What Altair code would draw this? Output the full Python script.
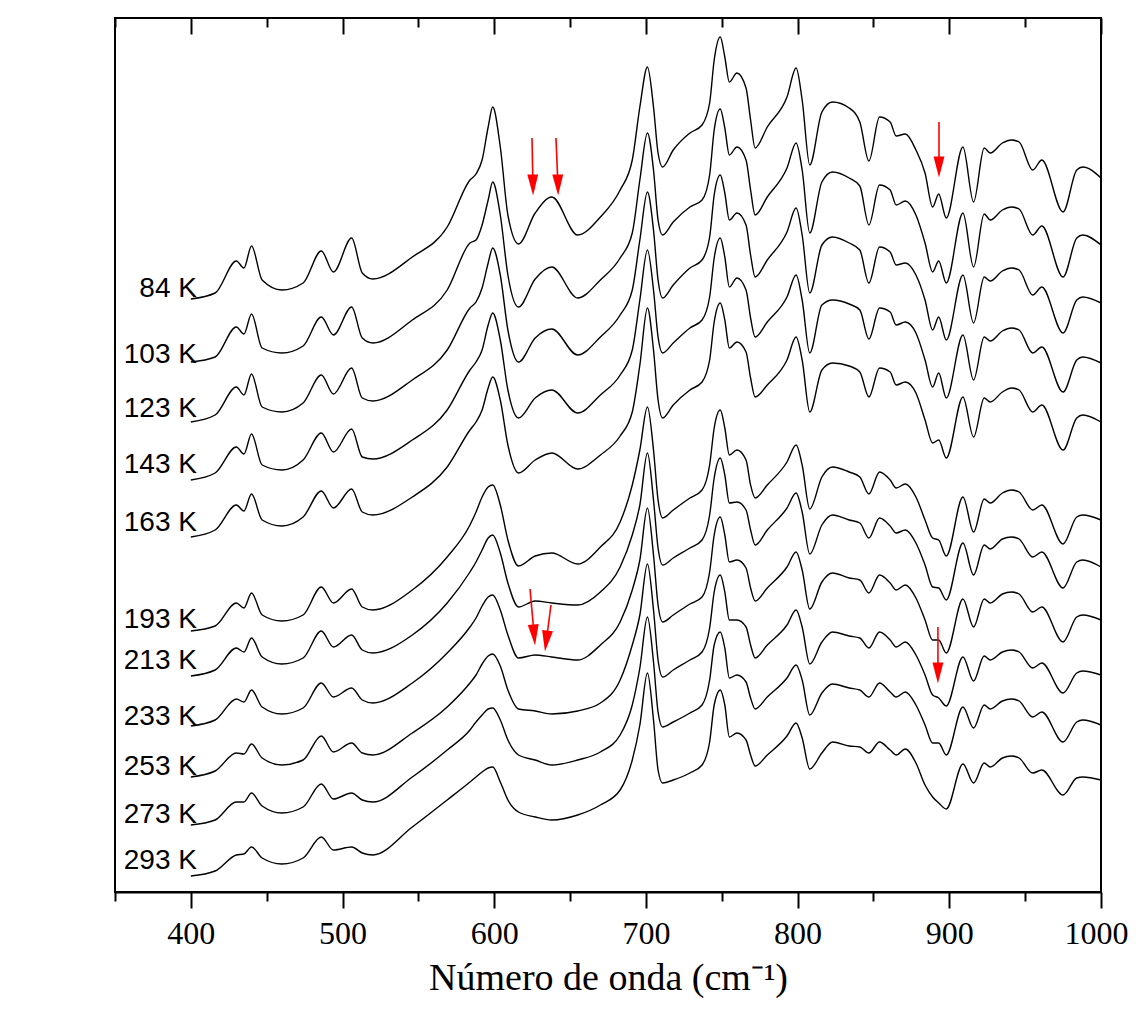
import altair as alt
import pandas as pd

# wavenumber grid (cm-1)
wn = [400, 416, 430, 435, 440, 447, 460, 474, 486, 494, 506, 513, 520, 546, 569, 584, 588, 592, 596, 599,
      604, 609, 616, 627, 638, 655, 670, 683, 691, 696, 701, 705, 708, 711, 718, 729, 737, 742, 745, 749,
      752, 755, 760, 766, 769, 772, 780, 793, 799, 803, 808, 816, 823, 834, 841, 847, 854, 861, 865, 871,
      878, 884, 889, 893, 898, 909, 916, 923, 927, 935, 941, 946, 955, 961, 975, 984, 988, 1000]

# stacked absorbance traces (offset units, larger = lower on the page)
k84 = [299, 293, 261, 268, 246, 280, 290, 283, 251, 272, 238, 273, 279, 257, 227, 180, 174, 160, 127, 107,
       147, 215, 244, 213, 197, 235, 217, 190, 160, 107, 67, 107, 153, 167, 150, 133, 125, 103, 60, 37,
       57, 82, 73, 88, 120, 148, 127, 97, 68, 100, 165, 112, 102, 108, 122, 161, 117, 122, 136, 134,
       150, 173, 207, 194, 218, 147, 202, 148, 153, 143, 140, 142, 170, 160, 212, 170, 167, 178]
k103 = [362, 357, 327, 334, 314, 348, 353, 346, 317, 335, 307, 338, 343, 320, 290, 243, 240, 225, 200, 182,
        215, 275, 307, 279, 267, 298, 280, 258, 233, 180, 133, 170, 220, 235, 222, 207, 200, 175, 130, 109,
        128, 155, 147, 160, 190, 215, 197, 168, 143, 170, 233, 182, 172, 178, 186, 225, 185, 190, 205, 201,
        215, 243, 272, 261, 283, 213, 267, 214, 220, 210, 207, 209, 235, 226, 277, 238, 235, 245]
k123 = [422, 415, 387, 395, 374, 407, 412, 403, 375, 394, 368, 398, 401, 380, 350, 308, 302, 288, 263, 248,
        275, 330, 362, 338, 329, 355, 337, 315, 290, 240, 192, 230, 280, 298, 285, 268, 260, 237, 195, 175,
        193, 220, 213, 225, 255, 277, 260, 232, 208, 235, 293, 245, 237, 243, 250, 283, 247, 252, 265, 263,
        275, 300, 330, 317, 340, 275, 323, 277, 281, 271, 268, 270, 295, 287, 333, 300, 297, 303]
k143 = [480, 473, 447, 454, 434, 465, 470, 460, 433, 452, 429, 457, 459, 440, 410, 370, 362, 350, 325, 313,
        340, 390, 418, 398, 390, 413, 395, 375, 350, 300, 250, 290, 337, 353, 343, 328, 320, 297, 258, 238,
        257, 287, 278, 290, 318, 337, 322, 297, 275, 300, 353, 305, 300, 304, 310, 339, 308, 312, 325, 322,
        333, 360, 387, 373, 398, 335, 380, 337, 341, 331, 328, 330, 353, 347, 392, 360, 357, 363]
k163 = [537, 530, 505, 511, 494, 520, 526, 517, 491, 508, 489, 512, 515, 497, 467, 430, 422, 410, 388, 377,
        400, 445, 473, 460, 453, 469, 455, 436, 412, 365, 308, 350, 400, 418, 405, 390, 382, 360, 322, 303,
        320, 348, 342, 352, 378, 397, 385, 360, 337, 360, 412, 370, 363, 366, 372, 397, 368, 372, 385, 382,
        393, 420, 443, 440, 458, 397, 437, 398, 402, 392, 388, 390, 412, 405, 450, 418, 415, 422]
k193 = [631, 626, 603, 608, 593, 615, 621, 615, 587, 603, 589, 607, 610, 590, 557, 525, 512, 497, 487, 485,
        505, 540, 566, 556, 553, 564, 547, 522, 485, 450, 407, 450, 500, 518, 510, 498, 490, 465, 428, 410,
        428, 455, 450, 460, 485, 498, 485, 462, 445, 465, 509, 477, 467, 472, 477, 494, 472, 480, 488, 484,
        497, 520, 538, 540, 556, 497, 532, 499, 503, 493, 490, 492, 510, 505, 544, 517, 515, 520]
k213 = [676, 670, 648, 652, 638, 657, 664, 658, 631, 647, 635, 650, 653, 635, 603, 572, 562, 550, 538, 535,
        553, 583, 607, 601, 603, 605, 592, 567, 535, 505, 453, 500, 548, 565, 558, 548, 540, 515, 478, 458,
        475, 503, 502, 510, 530, 545, 530, 508, 493, 512, 554, 525, 515, 520, 523, 538, 518, 526, 533, 530,
        543, 565, 587, 588, 600, 543, 575, 545, 549, 539, 537, 539, 557, 552, 588, 562, 560, 567]
k233 = [726, 720, 699, 702, 690, 707, 714, 708, 683, 697, 688, 700, 703, 683, 653, 627, 618, 606, 597, 595,
        610, 635, 658, 655, 657, 660, 645, 622, 590, 560, 508, 555, 605, 622, 615, 604, 597, 572, 535, 517,
        535, 562, 560, 568, 588, 601, 588, 567, 552, 570, 609, 582, 573, 578, 580, 593, 575, 583, 590, 585,
        598, 620, 640, 640, 653, 599, 627, 599, 603, 594, 592, 594, 612, 607, 642, 617, 615, 620]
k253 = [777, 771, 753, 754, 744, 758, 765, 760, 736, 752, 743, 753, 755, 733, 707, 683, 675, 664, 656, 654,
        666, 690, 709, 711, 714, 711, 703, 680, 645, 615, 564, 610, 660, 677, 670, 660, 652, 628, 592, 575,
        592, 620, 620, 627, 645, 658, 645, 625, 610, 627, 664, 642, 632, 636, 638, 648, 632, 640, 647, 642,
        655, 675, 695, 698, 706, 657, 681, 656, 660, 652, 650, 652, 668, 663, 693, 673, 671, 675]
k273 = [825, 820, 802, 802, 793, 806, 813, 807, 784, 799, 793, 800, 802, 777, 750, 730, 722, 715, 709, 708,
        720, 740, 755, 760, 765, 760, 752, 735, 705, 668, 617, 662, 712, 727, 722, 713, 705, 680, 645, 632,
        648, 678, 675, 682, 698, 709, 697, 678, 665, 680, 715, 693, 684, 688, 690, 697, 683, 692, 697, 692,
        705, 725, 743, 743, 755, 707, 728, 705, 709, 701, 699, 701, 717, 712, 742, 722, 720, 725]
k293 = [876, 871, 855, 854, 847, 858, 864, 858, 837, 850, 847, 853, 855, 827, 800, 782, 777, 772, 768, 767,
        782, 800, 812, 817, 820, 815, 805, 790, 760, 725, 673, 720, 770, 783, 780, 773, 765, 742, 705, 690,
        705, 737, 733, 740, 755, 766, 755, 736, 723, 738, 769, 753, 742, 746, 747, 753, 742, 750, 755, 749,
        763, 785, 797, 803, 809, 764, 783, 763, 767, 758, 756, 758, 773, 770, 795, 778, 777, 780]

temps = ["84 K", "103 K", "123 K", "143 K", "163 K", "193 K", "213 K", "233 K", "253 K", "273 K", "293 K"]
traces = [k84, k103, k123, k143, k163, k193, k213, k233, k253, k273, k293]
label_x = [404] * 11
label_y = [289, 355, 409, 465, 523, 620, 661, 717, 767, 815, 861]

# red arrows: shaft start (x0, y0), head centre (x1, y1), head rotation
arrow_x0 = [624.9, 640.7, 893.2, 623.6, 637.4, 892.5]
arrow_y0 = [138, 138, 122, 589, 605, 627]
arrow_x1 = [625.5, 642.0, 893.2, 626.3, 634.3, 892.5]
arrow_y1 = [185, 185, 167, 635, 641, 673]
arrow_ang = [359, 359, 0, 355, 7, 0]

major = [400, 500, 600, 700, 800, 900, 1000]
minor = [350, 450, 550, 650, 750, 850, 950]

rows = []
for name, vals in zip(temps, traces):
    for w, v in zip(wn, vals):
        rows.append({"curve": name, "wn": w, "a": v})
df = pd.DataFrame(rows)
labels_df = pd.DataFrame({"label": temps, "lx": label_x, "ly": label_y})
arrows_df = pd.DataFrame({"x0": arrow_x0, "y0": arrow_y0, "x1": arrow_x1, "y1": arrow_y1, "ang": arrow_ang})

xs = alt.Scale(domain=[350, 1000], nice=False, zero=False)
ys = alt.Scale(domain=[18, 892], reverse=True, nice=False, zero=False)

SERIF = "Liberation Serif"

lines = alt.Chart(df).mark_line(color="black", strokeWidth=1.4, interpolate="monotone").encode(
    x=alt.X("wn:Q", scale=xs, axis=alt.Axis(
        orient="bottom", values=major, format="d", tickSize=16, tickWidth=2, tickColor="black",
        domainWidth=2, domainColor="black", grid=False,
        labelFont=SERIF, labelFontSize=32, labelColor="black", labelPadding=10,
        labelFlush=True, labelFlushOffset=27,
        title="Número de onda (cm⁻¹)", titleFont=SERIF, titleFontSize=38, titleFontWeight="normal",
        titleColor="black", titleY=97, titleBaseline="alphabetic")),
    y=alt.Y("a:Q", scale=ys, axis=alt.Axis(
        title="Absorbância", labels=False, ticks=False, grid=False, domainWidth=2, domainColor="black",
        titleFont=SERIF, titleFontSize=38, titleFontWeight="normal", titleColor="black",
        titleAngle=270, titleX=-73, titleY=443, titleBaseline="alphabetic", titleAlign="center")),
    detail="curve:N",
)

labels = alt.Chart(labels_df).mark_text(
    align="right", baseline="middle", font="Liberation Sans", fontSize=28, color="black"
).encode(
    x=alt.X("lx:Q", scale=xs, axis=alt.Axis(
        orient="bottom", values=minor, tickSize=9, tickWidth=2, tickColor="black",
        labels=False, domain=False, grid=False, title=None)),
    y=alt.Y("ly:Q", scale=ys, axis=None),
    text="label:N",
)

shafts = alt.Chart(arrows_df).mark_rule(color="#ff0000", strokeWidth=1.6).encode(
    x=alt.X("x0:Q", scale=xs, axis=alt.Axis(
        orient="top", offset=-16, values=major, tickSize=16, tickWidth=2, tickColor="black",
        labels=False, domain=False, grid=False, title=None)),
    y=alt.Y("y0:Q", scale=ys, axis=None),
    x2="x1:Q",
    y2="y1:Q",
)

heads = alt.Chart(arrows_df).mark_point(
    shape="M -0.52 -1 L 0.52 -1 L 0 1 Z", filled=True, color="#ff0000", size=441, opacity=1, strokeWidth=0
).encode(
    x=alt.X("x1:Q", scale=xs, axis=alt.Axis(
        orient="top", offset=-9, values=minor, tickSize=9, tickWidth=2, tickColor="black",
        labels=False, domain=False, grid=False, title=None)),
    y=alt.Y("y1:Q", scale=ys, axis=None),
    angle=alt.Angle("ang:Q", scale=None),
)

chart = alt.layer(lines, labels, shafts, heads).resolve_axis(x="independent").properties(
    width=986, height=874,
    autosize=alt.AutoSizeParams(type="none"),
    padding={"left": 107, "top": 10, "right": 27, "bottom": 108},
    background="white",
).configure_view(stroke="black", strokeWidth=2)

chart.save("out.html", embed_options={"renderer": "svg", "actions": False})
